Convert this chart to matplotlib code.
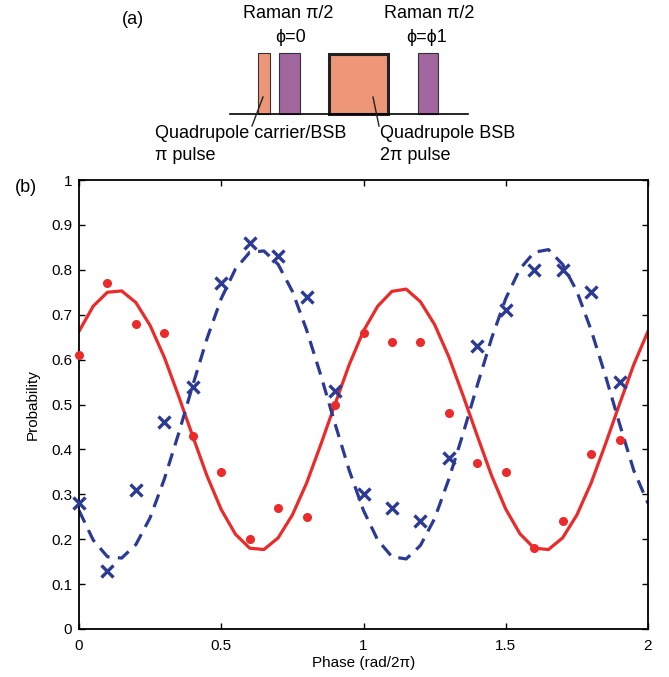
import matplotlib
matplotlib.use("Agg")
import matplotlib.pyplot as plt
from matplotlib.patches import Rectangle

plt.rcParams['font.family'] = ['Liberation Sans', 'DejaVu Sans']

# ---------------- data ----------------
phase_pts = [0.0, 0.1, 0.2, 0.3, 0.4, 0.5, 0.6, 0.7, 0.8, 0.9,
             1.0, 1.1, 1.2, 1.3, 1.4, 1.5, 1.6, 1.7, 1.8, 1.9]
red_pts = [0.61, 0.77, 0.68, 0.66, 0.43, 0.35, 0.20, 0.27, 0.25, 0.50,
           0.66, 0.64, 0.64, 0.48, 0.37, 0.35, 0.18, 0.24, 0.39, 0.42]
blue_pts = [0.28, 0.13, 0.31, 0.46, 0.54, 0.77, 0.86, 0.83, 0.74, 0.53,
            0.30, 0.27, 0.24, 0.38, 0.63, 0.71, 0.80, 0.80, 0.75, 0.55]

phase_fit = [0.00, 0.05, 0.10, 0.15, 0.20, 0.25, 0.30, 0.35, 0.40, 0.45,
             0.50, 0.55, 0.60, 0.65, 0.70, 0.75, 0.80, 0.85, 0.90, 0.95,
             1.00, 1.05, 1.10, 1.15, 1.20, 1.25, 1.30, 1.35, 1.40, 1.45,
             1.50, 1.55, 1.60, 1.65, 1.70, 1.75, 1.80, 1.85, 1.90, 1.95, 2.00]
red_fit = [0.663, 0.719, 0.750, 0.753, 0.727, 0.676, 0.605, 0.519, 0.429, 0.341,
           0.266, 0.211, 0.180, 0.177, 0.203, 0.254, 0.325, 0.411, 0.501, 0.589,
           0.664, 0.719, 0.752, 0.757, 0.729, 0.678, 0.606, 0.520, 0.430, 0.342,
           0.267, 0.212, 0.180, 0.177, 0.203, 0.254, 0.325, 0.411, 0.501, 0.589, 0.663]
blue_fit = [0.264, 0.198, 0.161, 0.158, 0.188, 0.248, 0.334, 0.435, 0.543, 0.647,
            0.736, 0.802, 0.839, 0.842, 0.812, 0.752, 0.666, 0.565, 0.457, 0.353,
            0.264, 0.198, 0.161, 0.156, 0.186, 0.246, 0.334, 0.435, 0.543, 0.647,
            0.736, 0.802, 0.839, 0.845, 0.812, 0.752, 0.666, 0.565, 0.457, 0.353, 0.280]

x_ticks = [0, 0.5, 1, 1.5, 2]
x_ticklabels = ['0', '0.5', '1', '1.5', '2']
y_ticks = [0, 0.1, 0.2, 0.3, 0.4, 0.5, 0.6, 0.7, 0.8, 0.9, 1.0]
y_ticklabels = ['0', '0.1', '0.2', '0.3', '0.4', '0.5', '0.6', '0.7', '0.8', '0.9', '1']

RED = '#EC2A2A'
BLUE = '#2B3A94'
SALMON = '#EE9678'
PURPLE = '#A2669F'

W, H = 669, 677
fig = plt.figure(figsize=(W / 100, H / 100), dpi=100)

# ---------------- panel (b) ----------------
ax = fig.add_axes([79 / W, 1 - 629 / H, (648 - 79) / W, (629 - 180) / H])
ax.plot(phase_fit, red_fit, color=RED, lw=2.3, zorder=2)
ax.plot(phase_fit, blue_fit, color=BLUE, lw=2.3, dashes=(4.2, 2.6), zorder=2)
ax.plot(phase_pts, red_pts, 'o', color=RED, ms=5.5, mec=RED, zorder=3, clip_on=False)
ax.plot(phase_pts, blue_pts, 'x', color=BLUE, ms=9, mew=2.4, zorder=3, clip_on=False)
ax.set_xlim(0, 2)
ax.set_ylim(0, 1)
ax.set_xticks(x_ticks)
ax.set_xticklabels(x_ticklabels)
ax.set_yticks(y_ticks)
ax.set_yticklabels(y_ticklabels)
ax.tick_params(direction='in', length=4, width=1, top=True, right=True,
               labelsize=11)
ax.tick_params(axis='x', pad=7)
ax.tick_params(axis='y', pad=5)
for s in ax.spines.values():
    s.set_linewidth(1.3)
ax.set_xlabel('Phase (rad/2π)', fontsize=11, labelpad=2)
ax.set_ylabel('Probability', fontsize=11, labelpad=8)

# ---------------- panel (a) ----------------
d = fig.add_axes([0, 0, 1, 1], zorder=-1)
d.set_xlim(0, W)
d.set_ylim(H, 0)
d.axis('off')

d.plot([230, 468], [114, 114], color='black', lw=1.2)
d.add_patch(Rectangle((258, 53), 12, 61, facecolor=SALMON, edgecolor='#333333', lw=0.8))
d.add_patch(Rectangle((279, 53), 21, 61, facecolor=PURPLE, edgecolor='#333333', lw=0.8))
d.add_patch(Rectangle((329, 54), 59, 60, facecolor=SALMON, edgecolor='#222222', lw=2.2))
d.add_patch(Rectangle((418, 53), 20, 61, facecolor=PURPLE, edgecolor='#333333', lw=0.8))
d.plot([263, 252], [97, 126], color='#222222', lw=1)
d.plot([373, 379], [97, 126], color='#222222', lw=1)

fs = 13
d.text(133, 20, '(a)', fontsize=fs, ha='center', va='center')
d.text(288, 14, 'Raman π/2', fontsize=fs, ha='center', va='center')
d.text(291, 38, 'ϕ=0', fontsize=fs, ha='center', va='center')
d.text(429, 14, 'Raman π/2', fontsize=fs, ha='center', va='center')
d.text(427, 38, 'ϕ=ϕ1', fontsize=fs, ha='center', va='center')
d.text(155, 134, 'Quadrupole carrier/BSB', fontsize=fs, ha='left', va='center')
d.text(155, 156, 'π pulse', fontsize=fs, ha='left', va='center')
d.text(380, 134, 'Quadrupole BSB', fontsize=fs, ha='left', va='center')
d.text(380, 156, '2π pulse', fontsize=fs, ha='left', va='center')
d.text(26, 187, '(b)', fontsize=fs, ha='center', va='center')

fig.savefig('out.png', dpi=100)
